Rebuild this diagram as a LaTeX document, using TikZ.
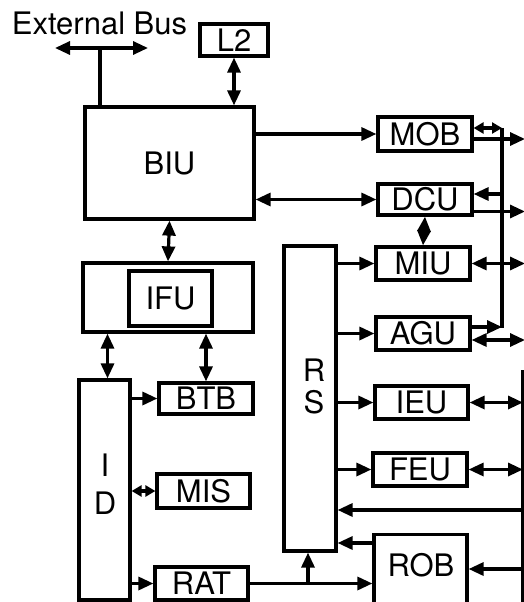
\documentclass[tikz,border=0pt]{standalone}
\usepackage{fontspec}
\setmainfont{TeX Gyre Heros}
\usetikzlibrary{arrows.meta}

\begin{document}
\begin{tikzpicture}[x=1pt, y=-1pt, line width=3.2pt, font={\fontsize{31}{36}\selectfont}]

    % Styles for unit boxes and arrows
    \tikzset{
        unit/.style={draw, inner sep=0pt, minimum width=94pt, minimum height=33pt},
        arr/.style={-{Triangle[length=15pt,width=13pt]}},
        darr/.style={{Triangle[length=15pt,width=13pt]}-{Triangle[length=15pt,width=13pt]}},
        sdarr/.style={{Triangle[length=10pt,width=11pt]}-{Triangle[length=10pt,width=11pt]}}
    }
    \useasboundingbox (0,0) rectangle (524,602);
    \clip (0,0) rectangle (524,602);

    % ==========================================
    % Front end (left column)
    % ==========================================
    \node[anchor=base] (ext) at (99.5,35) {External Bus};
    \node[unit, minimum width=68pt, minimum height=32pt] (L2) at (234,40) {L2};
    \node[unit, minimum width=169pt, minimum height=112pt] (BIU) at (169.5,163) {BIU};
    \node[draw, minimum width=170pt, minimum height=69pt] (IFUo) at (168,297.5) {};
    \node[unit, minimum width=83pt, minimum height=55pt] (IFU) at (170.5,298.5) {IFU};
    \node[draw, minimum width=51pt, minimum height=220pt] (ID) at (104.5,490) {};
    \node[align=center] (IDtxt) at (105,484) {I\\[2pt]D};
    \node[unit, minimum height=31pt] (BTB) at (206,398.5) {BTB};
    \node[unit, minimum width=93pt, minimum height=34pt] (MIS) at (203.5,491) {MIS};
    \node[unit, minimum width=93pt] (RAT) at (201.5,583.5) {RAT};

    % ==========================================
    % Execution core (right column)
    % ==========================================
    \node[draw, minimum width=52pt, minimum height=305pt] (RS) at (310,398.5) {};
    \node[align=center] (RStxt) at (314,386) {R\\[-4pt]S};
    \node[unit, minimum height=34pt] (MOB) at (425,134) {MOB};
    \node[unit, minimum height=31pt] (DCU) at (425,199.5) {DCU};
    \node[unit] (MIU) at (423,263.5) {MIU};
    \node[unit] (AGU) at (423,333.5) {AGU};
    \node[unit, minimum width=93pt] (IEU) at (421.5,402.5) {IEU};
    \node[unit] (FEU) at (420,469.5) {FEU};
    \node[draw, minimum width=93pt, minimum height=80pt, anchor=north] (ROB) at (420.5,533) {};
    \node (ROBtxt) at (421,565) {ROB};

    % Bus coordinates
    \coordinate (ebj) at (100,48);
    \coordinate (ebl) at (55,48);
    \coordinate (ebr) at (148,48);
    \coordinate (mbt) at (502,128);
    \coordinate (mbb) at (502,328);
    \coordinate (rbt) at (523,370);
    \coordinate (rbb) at (523,610);
    \coordinate (rim) at (525,0);

    % ==========================================
    % Connectors
    % ==========================================
    \draw[darr] (ebl) -- (ebr);
    \draw (ebj) -- (ebj |- BIU.north);
    \draw[darr] (L2.south) -- (L2.south |- BIU.north);
    \draw[arr] (BIU.east |- MOB.west) -- (MOB.west);
    \draw[darr] (BIU.east |- DCU.west) -- (DCU.west);
    \draw[darr] (BIU.south) -- (IFUo.north);
    \draw[darr] ([xshift=3pt]ID.north |- IFUo.south) -- ([xshift=3pt]ID.north);
    \draw[darr] (BTB.north |- IFUo.south) -- (BTB.north);
    \draw[arr] (ID.east |- BTB.west) -- (BTB.west);
    \draw[sdarr] (ID.east |- MIS.west) -- (MIS.west);
    \draw[arr] (ID.east |- RAT.west) -- (RAT.west);
    \draw[arr] (RAT.east) -- (RAT.east -| ROB.west);
    \draw[arr] ([xshift=-2pt]RAT.east -| RS.south) -- ([xshift=-2pt]RS.south);

    % RS dispatch ports
    \draw[arr] (RS.east |- MIU.west) -- (MIU.west);
    \draw[arr] (RS.east |- AGU.west) -- (AGU.west);
    \draw[arr] (RS.east |- IEU.west) -- (IEU.west);
    \draw[arr] (RS.east |- FEU.west) -- (FEU.west);
    \draw[arr] ([yshift=-10pt]ROB.north west) -- ([yshift=-10pt]ROB.north west -| RS.east);
    \draw[darr] (DCU.south) -- (MIU.north);

    % Memory bus
    \draw (mbt) -- (mbb);
    \draw[sdarr] ([yshift=6pt]MOB.east) -- ([yshift=6pt]MOB.east -| mbt);
    \draw[arr] ([yshift=-5pt]MOB.east) -- ([yshift=-5pt]MOB.east -| rim);
    \draw[arr] ([yshift=5.5pt]DCU.east -| mbt) -- ([yshift=5.5pt]DCU.east);
    \draw[arr] ([yshift=-12pt]DCU.east) -- ([yshift=-12pt]DCU.east -| rim);
    \draw[darr] (MIU.east) -- (MIU.east -| rim);
    \draw[arr] ([yshift=6.5pt]AGU.east) -- ([yshift=6.5pt]AGU.east -| mbt);
    \draw[darr] ([yshift=-6.5pt]AGU.east) -- ([yshift=-6.5pt]AGU.east -| rim);

    % Writeback bus
    \draw (rbt) -- (rbb);
    \draw[darr] (IEU.east) -- (IEU.east -| rbt);
    \draw[darr] (FEU.east) -- (FEU.east -| rbt);
    \draw[arr] (rbt |- 0,510) -- (RS.east |- 0,510);
    \draw[arr] (rbt |- 0,569) -- (ROB.east |- 0,569);

\end{tikzpicture}
\end{document}
